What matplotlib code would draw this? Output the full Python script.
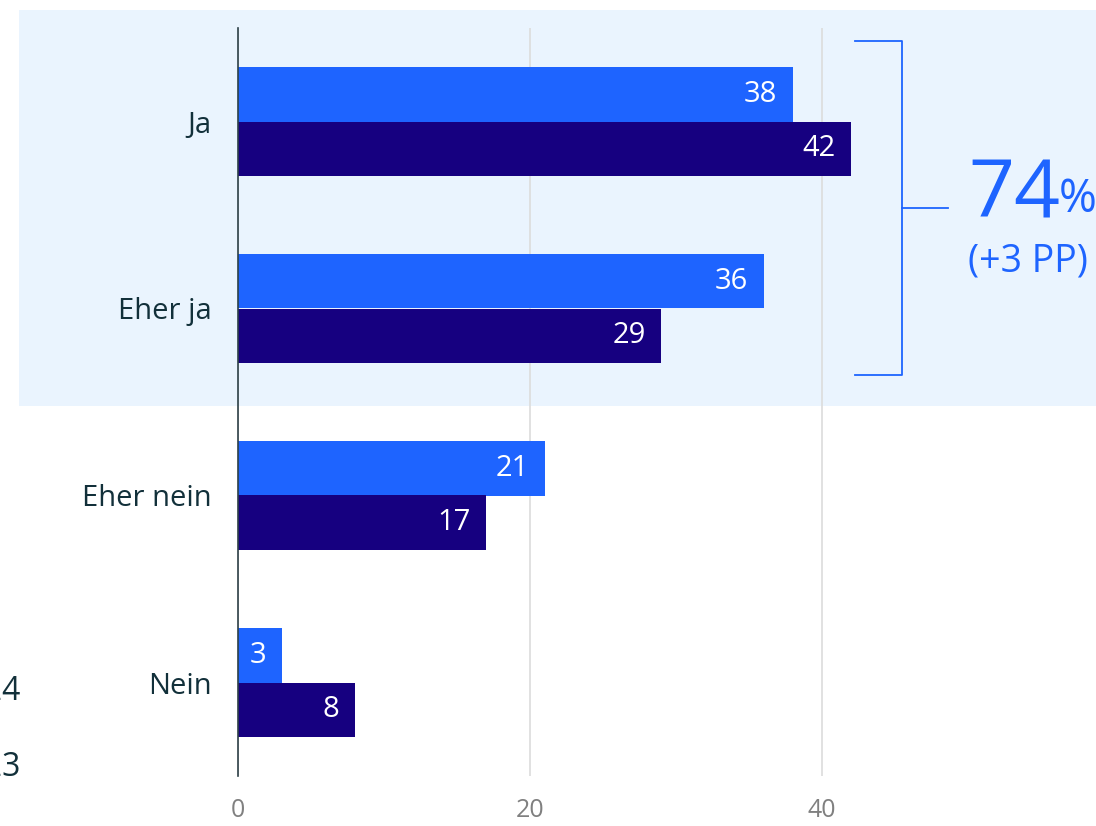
import matplotlib.pyplot as plt
from matplotlib.patches import Rectangle
import numpy as np

plt.rcParams['font.family'] = ['Open Sans', 'DejaVu Sans']

categories = ["Ja", "Eher ja", "Eher nein", "Nein"]
values_2024 = [38, 36, 21, 3]
values_2023 = [42, 29, 17, 8]
years = ["2024", "2023"]

total_yes = 74
change_pp = 3

light = '#1e64ff'
dark = '#160080'
text_dark = '#12303a'
shade = '#eaf4fe'

fig = plt.figure(figsize=(10.96, 8.26), dpi=100)
W, H = 1096, 826
ax = fig.add_axes([238 / W, 1 - 776 / H, (1096 - 238) / W, (776 - 28) / H])

y = np.arange(len(categories))
h = 0.294

ax.set_xlim(0, (1096 - 238) / 14.6)
ax.set_ylim(len(categories) - 0.5, -0.5)

# light background behind the two "yes" answers
ax.add_patch(Rectangle((-15.0, -0.596), 80, 2.12, facecolor=shade,
                       edgecolor='none', zorder=0, clip_on=False))

b1 = ax.barh(y - h / 2, values_2024, height=h, color=light, zorder=3)
b2 = ax.barh(y + h / 2, values_2023, height=h, color=dark, zorder=3)

for bars, vals in ((b1, values_2024), (b2, values_2023)):
    for bar, v in zip(bars, vals):
        ax.annotate(str(v), (v, bar.get_y() + bar.get_height() / 2),
                    xytext=(-11, 0), textcoords='offset points',
                    ha='right', va='center', color='white', fontsize=21, zorder=4)

ax.set_xticks([0, 20, 40])
ax.tick_params(axis='x', length=0, labelsize=18, labelcolor='#808080', pad=16)
ax.set_yticks(y)
ax.set_yticklabels(categories)
ax.tick_params(axis='y', length=0, labelsize=21, labelcolor=text_dark, pad=19)
ax.grid(axis='x', color='#dcdcdc', linewidth=1.2, zorder=1)
ax.set_axisbelow(True)
for s in ('top', 'right', 'bottom'):
    ax.spines[s].set_visible(False)
ax.spines['left'].set_color('#2d4047')
ax.spines['left'].set_linewidth(1.2)
ax.spines['left'].set_zorder(5)
ax.patch.set_visible(False)

# bracket around "Ja" + "Eher ja"
x0, x1, x2 = 42.26, 45.48, 48.63
ya, yb, ym = -0.428, 1.353, 0.465
ax.plot([x0, x1, x1, x0], [ya, ya, yb, yb], color=light, lw=1.3, clip_on=False, zorder=4)
ax.plot([x1, x2], [ym, ym], color=light, lw=1.3, clip_on=False, zorder=4)

fig.text(968 / W, 1 - 218 / H, str(total_yes), fontsize=58, color=light,
         ha='left', va='baseline')
fig.text(1059 / W, 1 - 212 / H, '%', fontsize=33, color=light,
         ha='left', va='baseline')
fig.text(1028 / W, 1 - 261 / H, f'(+{change_pp} PP)', fontsize=27, color=light,
         ha='center', va='center')

# legend labels, partly off the left edge
fig.text(21 / W, 1 - 692 / H, years[0], fontsize=23, color=text_dark,
         ha='right', va='center')
fig.text(21 / W, 1 - 768 / H, years[1], fontsize=23, color=text_dark,
         ha='right', va='center')

fig.savefig('out.png', dpi=100)
